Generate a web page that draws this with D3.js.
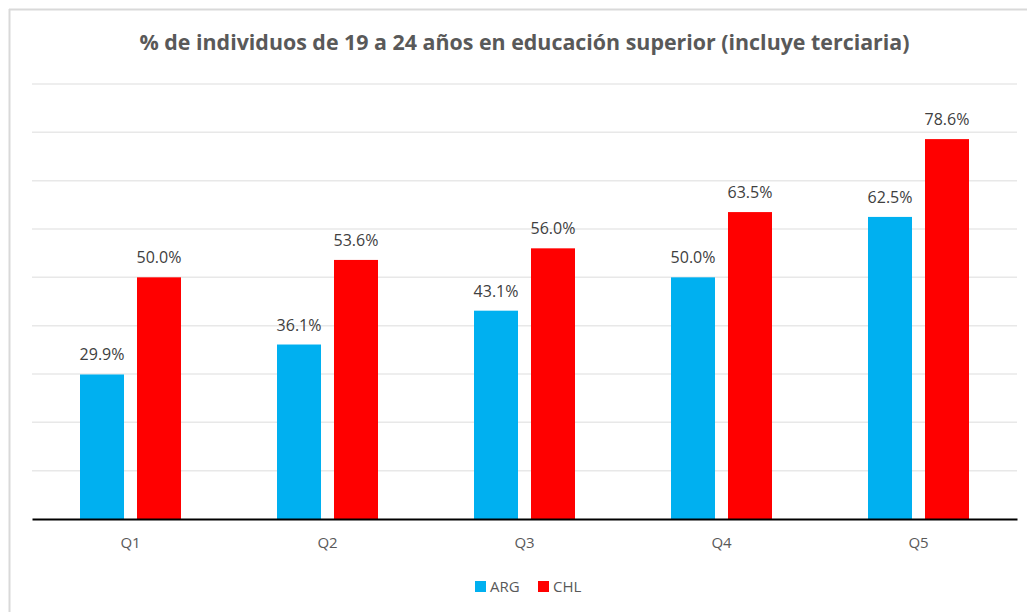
<!DOCTYPE html>
<html><head><meta charset="utf-8">
<script src="https://cdn.jsdelivr.net/npm/d3@7/dist/d3.min.js"></script>
<style>body{margin:0;background:#fff}svg{display:block}</style>
</head><body>
<svg id="chart" width="1027" height="612"></svg>
<script>
const categories = ["Q1","Q2","Q3","Q4","Q5"];
const seriesNames = ["ARG","CHL"];
const argValues = [29.9,36.1,43.1,50.0,62.5];
const chlValues = [50.0,53.6,56.0,63.5,78.6];
const yTicks = [0,10,20,30,40,50,60,70,80,90];
const colors = {ARG:"#00B0F0", CHL:"#FF0000"};
const title = "% de individuos de 19 a 24 años en educación superior (incluye terciaria)";

const svg = d3.select("#chart");
const font = "'Open Sans', 'Liberation Sans', sans-serif";

// chart border
svg.append("line").attr("x1",9).attr("x2",1027).attr("y1",9.5).attr("y2",9.5).attr("stroke","#d9d9d9").attr("stroke-width",2);
svg.append("line").attr("x1",9.5).attr("x2",9.5).attr("y1",9).attr("y2",612).attr("stroke","#d9d9d9").attr("stroke-width",2);

const x0 = d3.scaleBand().domain(categories).range([32,1017]).padding(0);
const x1 = d3.scaleBand().domain(seriesNames).range([-50.5,50.5]).paddingInner(0.228);
const y = d3.scaleLinear().domain([0,90]).range([519,84]);

// gridlines
svg.append("g").selectAll("line").data(yTicks.slice(1)).join("line")
  .attr("x1",32).attr("x2",1017)
  .attr("y1",d=>y(d)).attr("y2",d=>y(d))
  .attr("stroke","#e8e8e8").attr("stroke-width",1.5);

const data = categories.map((c,i)=>({cat:c, vals:[{s:"ARG",v:argValues[i]},{s:"CHL",v:chlValues[i]}]}));

const groups = svg.append("g").selectAll("g").data(data).join("g")
  .attr("transform",d=>`translate(${x0(d.cat)+x0.bandwidth()/2},0)`);

groups.selectAll("rect").data(d=>d.vals).join("rect")
  .attr("x",d=>x1(d.s)).attr("width",x1.bandwidth())
  .attr("y",d=>y(d.v)).attr("height",d=>y(0)-y(d.v))
  .attr("fill",d=>colors[d.s]);

groups.selectAll("text").data(d=>d.vals).join("text")
  .attr("x",d=>x1(d.s)+x1.bandwidth()/2)
  .attr("y",d=>y(d.v)-14)
  .attr("text-anchor","middle")
  .attr("font-family",font).attr("font-size",16).attr("fill","#404040")
  .text(d=>d.v.toFixed(1)+"%");

// x axis
const xAxis = svg.append("g").attr("transform",`translate(0,${y(0)})`)
  .call(d3.axisBottom(x0).tickSize(0).tickPadding(18));
xAxis.select(".domain").attr("stroke","#000").attr("stroke-width",2);
xAxis.selectAll("text").attr("font-family",font).attr("font-size",15).attr("fill","#595959");

// title
svg.append("text").attr("x",524.5).attr("y",50).attr("text-anchor","middle")
  .attr("font-family","'Open Sans', sans-serif").attr("font-weight","bold")
  .attr("font-size",21).attr("fill","#595959").attr("textLength",770).attr("lengthAdjust","spacingAndGlyphs")
  .text(title);

// legend
const legendPos = [475, 538];
const lg = svg.append("g").selectAll("g").data(seriesNames).join("g")
  .attr("transform",(d,i)=>`translate(${legendPos[i]},581)`);
lg.append("rect").attr("width",11).attr("height",11).attr("fill",d=>colors[d]);
lg.append("text").attr("x",15).attr("y",11).attr("font-family",font).attr("font-size",15).attr("fill","#595959").text(d=>d);
</script>
</body></html>
